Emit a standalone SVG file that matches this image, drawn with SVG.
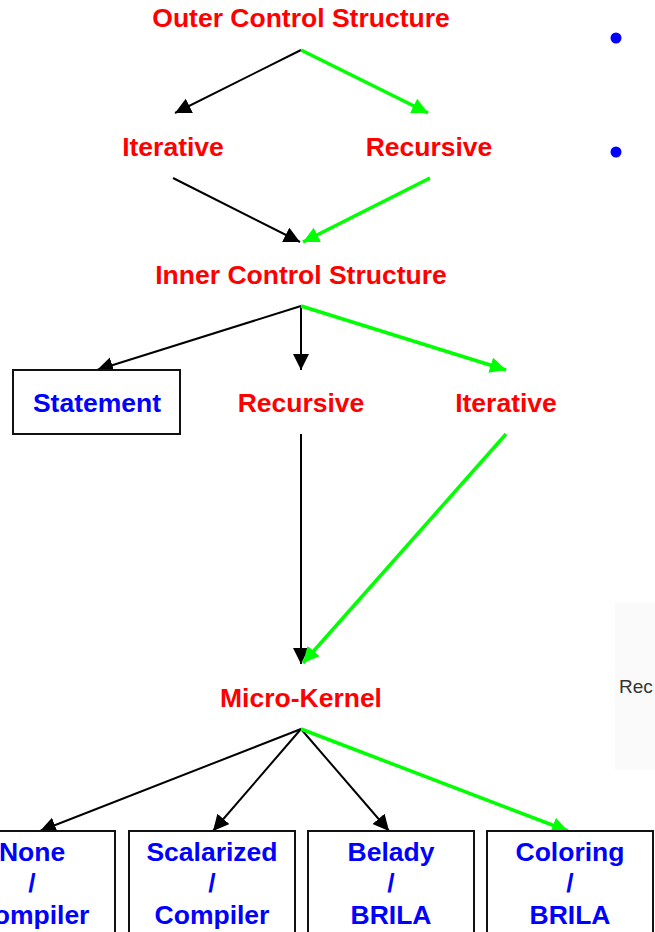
<svg xmlns="http://www.w3.org/2000/svg" width="655" height="932" viewBox="0 0 655 932">
  <style>
    .lbl { font-family: "Liberation Sans", Arial, sans-serif; font-weight: bold; font-size: 26.5px; text-anchor: middle; }
    .red { fill: #ff0000; }
    .blue { fill: #0000ff; }
    .box { fill: #ffffff; stroke: #111111; stroke-width: 2; }
    .blk { stroke: #000000; stroke-width: 2; fill: none; marker-end: url(#headBlack); }
    .grn { stroke: #00ff00; stroke-width: 3.5; fill: none; marker-end: url(#headGreen); }
  </style>
  <defs>
    <marker id="headBlack" markerUnits="userSpaceOnUse" markerWidth="18" markerHeight="18" refX="16" refY="8" orient="auto" viewBox="0 0 18 18">
      <path d="M0,0 L16,8 L0,16 z" fill="#000000"/>
    </marker>
    <marker id="headGreen" markerUnits="userSpaceOnUse" markerWidth="18" markerHeight="18" refX="16" refY="8" orient="auto" viewBox="0 0 18 18">
      <path d="M0,0 L16,8 L0,16 z" fill="#00ff00"/>
    </marker>
  </defs>

  <rect width="655" height="932" fill="#ffffff"/>

  <!-- side panel remnants -->
  <rect x="615" y="603" width="40" height="167" fill="#fafafa"/>
  <text x="619" y="693" font-family="Liberation Sans, Arial, sans-serif" font-size="19" fill="#333333">Rec</text>
  <circle cx="616" cy="38" r="5.5" fill="#0000ff"/>
  <circle cx="616" cy="152" r="5.5" fill="#0000ff"/>

  <!-- connectors -->
  <g id="connectors">
    <line class="blk" x1="301" y1="50" x2="175" y2="113"/>
    <line class="grn" x1="301" y1="50" x2="428" y2="113"/>
    <line class="blk" x1="173" y1="178" x2="300" y2="242"/>
    <line class="grn" x1="430" y1="178" x2="303" y2="242"/>
    <line class="blk" x1="301" y1="306" x2="97" y2="370"/>
    <line class="blk" x1="301" y1="306" x2="301" y2="370"/>
    <line class="grn" x1="301" y1="306" x2="506" y2="370"/>
    <line class="blk" x1="301" y1="434" x2="301" y2="664"/>
    <line class="grn" x1="506" y1="434" x2="303" y2="663"/>
    <line class="blk" x1="301" y1="729" x2="40" y2="831"/>
    <line class="blk" x1="301" y1="729" x2="213" y2="831"/>
    <line class="blk" x1="301" y1="729" x2="389" y2="831"/>
    <line class="grn" x1="301" y1="729" x2="568" y2="831"/>
  </g>

  <!-- nodes -->
  <g id="outer"><text class="lbl red" x="301" y="27">Outer Control Structure</text></g>
  <g id="iterative-outer"><text class="lbl red" x="173" y="156">Iterative</text></g>
  <g id="recursive-outer"><text class="lbl red" x="429" y="156">Recursive</text></g>
  <g id="inner"><text class="lbl red" x="301" y="284">Inner Control Structure</text></g>
  <g id="statement">
    <rect class="box" x="13" y="370" width="167" height="64"/>
    <text class="lbl blue" x="97" y="412">Statement</text>
  </g>
  <g id="recursive-inner"><text class="lbl red" x="301" y="412">Recursive</text></g>
  <g id="iterative-inner"><text class="lbl red" x="506" y="412">Iterative</text></g>
  <g id="micro-kernel"><text class="lbl red" x="301" y="707">Micro-Kernel</text></g>

  <g id="none-compiler">
    <rect class="box" x="-52" y="831" width="167" height="110"/>
    <text class="lbl blue" x="32" y="861">None</text>
    <text class="lbl blue" x="32" y="892">/</text>
    <text class="lbl blue" x="32" y="924">Compiler</text>
  </g>
  <g id="scalarized-compiler">
    <rect class="box" x="129" y="831" width="166" height="110"/>
    <text class="lbl blue" x="212" y="861">Scalarized</text>
    <text class="lbl blue" x="212" y="892">/</text>
    <text class="lbl blue" x="212" y="924">Compiler</text>
  </g>
  <g id="belady-brila">
    <rect class="box" x="308" y="831" width="166" height="110"/>
    <text class="lbl blue" x="391" y="861">Belady</text>
    <text class="lbl blue" x="391" y="892">/</text>
    <text class="lbl blue" x="391" y="924">BRILA</text>
  </g>
  <g id="coloring-brila">
    <rect class="box" x="487" y="831" width="166" height="110"/>
    <text class="lbl blue" x="570" y="861">Coloring</text>
    <text class="lbl blue" x="570" y="892">/</text>
    <text class="lbl blue" x="570" y="924">BRILA</text>
  </g>
</svg>
